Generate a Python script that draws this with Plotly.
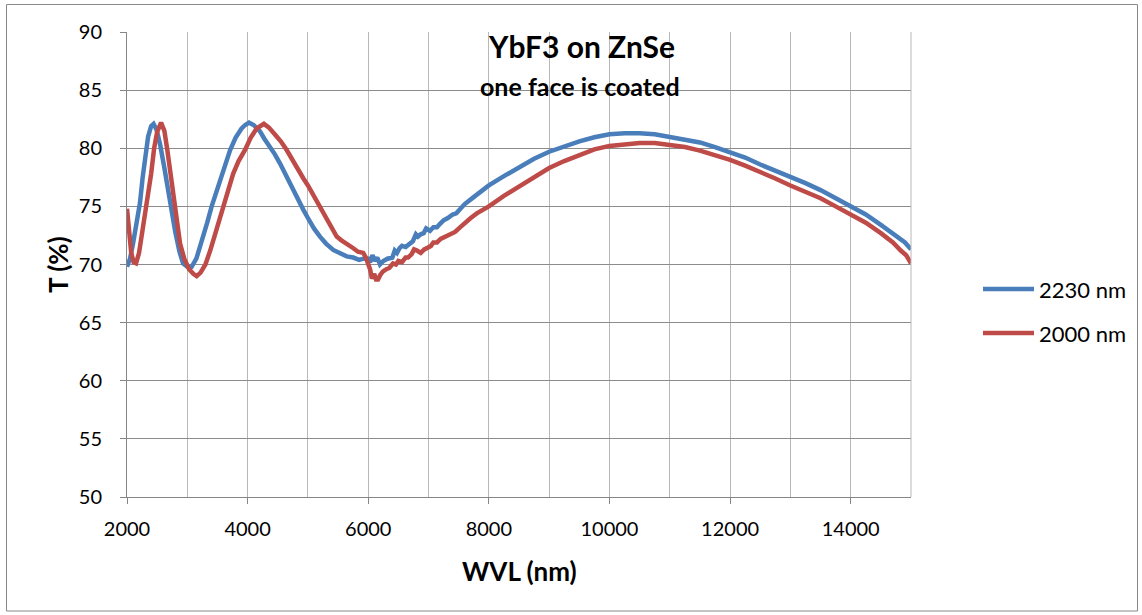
import plotly.graph_objects as go

# Series "2230 nm" (blue)
wl_2230 = [2000, 2050, 2100, 2160, 2215, 2260, 2300, 2350, 2400, 2440, 2490, 2550, 2620, 2713,
           2800, 2870, 2930, 3000, 3072, 3150, 3250, 3330, 3404, 3500, 3600, 3710, 3800, 3900,
           3960, 4023, 4100, 4200, 4280, 4350, 4450, 4536, 4650, 4750, 4850, 4925, 5000, 5100,
           5200, 5300, 5420, 5530, 5643, 5750, 5850, 5920, 5974, 6000, 6030, 6070, 6110, 6150,
           6195, 6250, 6320, 6400, 6440, 6477, 6520, 6560, 6620, 6692, 6740, 6790, 6825, 6870,
           6920, 6960, 7024, 7080, 7140, 7190, 7250, 7320, 7400, 7460, 7522, 7600, 7700, 7800,
           7900, 8000, 8250, 8500, 8750, 9000, 9250, 9500, 9750, 10000, 10250, 10500, 10750,
           11000, 11250, 11500, 11750, 12000, 12250, 12500, 12750, 13000, 13250, 13500, 13750,
           14000, 14250, 14500, 14750, 14900, 15000]
t_2230 = [69.8, 70.5, 71.8, 73.7, 75.3, 77.5, 79.3, 81.0, 81.9, 82.1, 81.6, 80.3, 78.3, 75.3,
          72.8, 71.1, 70.1, 69.8, 69.8, 70.5, 72.1, 73.6, 75.0, 76.6, 78.2, 79.85, 80.9, 81.7,
          82.0, 82.2, 82.0, 81.5, 80.8, 80.3, 79.5, 78.7, 77.5, 76.4, 75.4, 74.7, 74.0, 73.1,
          72.4, 71.8, 71.25, 70.95, 70.7, 70.6, 70.4, 70.5, 70.55, 70.5, 70.2, 70.8, 70.3, 70.6,
          70.0, 70.3, 70.5, 70.6, 71.2, 71.0, 71.4, 71.6, 71.5, 71.8, 72.0, 72.6, 72.4, 72.6,
          72.7, 73.1, 72.9, 73.2, 73.2, 73.5, 73.8, 74.0, 74.3, 74.4, 74.8, 75.2, 75.6, 76.0,
          76.4, 76.8, 77.6, 78.4, 79.1, 79.7, 80.2, 80.6, 80.95, 81.2, 81.3, 81.3, 81.2,
          80.95, 80.75, 80.5, 80.1, 79.7, 79.2, 78.6, 78.1, 77.5, 77.0, 76.4, 75.7,
          75.0, 74.3, 73.4, 72.5, 71.9, 71.3]

# Series "2000 nm" (red)
wl_2000 = [2000, 2030, 2070, 2110, 2150, 2200, 2250, 2300, 2350, 2400, 2450, 2500, 2565, 2620,
           2670, 2713, 2763, 2820, 2880, 2950, 3030, 3100, 3155, 3220, 3300, 3380, 3450, 3520,
           3597, 3680, 3760, 3850, 3957, 4050, 4150, 4270, 4350, 4450, 4550, 4648, 4750, 4850,
           4925, 5000, 5100, 5200, 5300, 5400, 5477, 5550, 5650, 5753, 5830, 5917, 5960, 6000,
           6030, 6062, 6100, 6130, 6162, 6200, 6245, 6300, 6350, 6411, 6460, 6500, 6560, 6620,
           6660, 6720, 6760, 6810, 6870, 6930, 6975, 7040, 7080, 7140, 7200, 7280, 7350, 7440,
           7522, 7600, 7700, 7800, 7900, 8000, 8250, 8500, 8750, 9000, 9250, 9500, 9750, 10000,
           10250, 10500, 10750, 11000, 11250, 11500, 11750, 12000, 12250, 12500, 12750, 13000,
           13250, 13500, 13750, 14000, 14250, 14500, 14700, 14830, 14920, 15000]
t_2000 = [74.8, 72.8, 71.0, 70.2, 70.1, 71.0, 72.6, 74.2, 75.8, 77.8, 80.0, 81.4, 82.2, 81.5,
          79.8, 78.1, 75.8, 73.5, 71.8, 70.5, 69.6, 69.2, 69.0, 69.3, 70.0, 71.2, 72.4, 73.7,
          75.0, 76.5, 77.8, 78.9, 79.85, 80.9, 81.7, 82.1, 81.8, 81.2, 80.6, 79.85, 78.9, 78.0,
          77.4, 76.8, 75.9, 75.0, 74.1, 73.1, 72.4, 72.1, 71.8, 71.4, 71.1, 71.0, 70.6, 70.0,
          69.6, 68.8, 69.2, 68.7, 68.7, 69.1, 69.4, 69.6, 69.7, 70.1, 70.0, 70.3, 70.2, 70.6,
          70.6, 70.9, 71.3, 71.2, 71.0, 71.3, 71.4, 71.6, 71.9, 71.9, 72.2, 72.4, 72.6, 72.8,
          73.2, 73.6, 74.0, 74.4, 74.7, 75.0, 75.9, 76.7, 77.5, 78.3, 78.9, 79.4, 79.9, 80.2,
          80.35, 80.45, 80.45, 80.3, 80.1, 79.8, 79.4, 79.0, 78.5, 78.0, 77.4, 76.8,
          76.3, 75.7, 75.0, 74.3, 73.6, 72.7, 71.9, 71.2, 70.8, 70.1]

series_names = ["2230 nm", "2000 nm"]
series_colors = ["#4a7ebb", "#be4b48"]

x_ticks = [2000, 4000, 6000, 8000, 10000, 12000, 14000]
y_ticks = [50, 55, 60, 65, 70, 75, 80, 85, 90]

FONT = "Lato"
W, H = 1142, 615
L, R, T, B = 127, 231, 32, 118
PW, PH = W - L - R, H - T - B

fig = go.Figure()
for xs, ys, nm, col in zip([wl_2230, wl_2000], [t_2230, t_2000], series_names, series_colors):
    fig.add_trace(go.Scatter(x=xs, y=ys, mode="lines", name=nm,
                             line=dict(color=col, width=4.5)))

def px(xp):
    return (xp - L) / PW

def py(yp):
    return (H - B - yp) / PH

fig.update_layout(
    width=W, height=H,
    margin=dict(l=L, r=R, t=T, b=B, autoexpand=False),
    paper_bgcolor="white", plot_bgcolor="white",
    font=dict(family=FONT, size=20, color="black"),
    showlegend=False,
    xaxis=dict(range=[2000, 15000], tickvals=x_ticks, ticktext=[str(v) for v in x_ticks],
               showgrid=True, gridcolor="#b8b8b8", gridwidth=1, automargin=False,
               showline=True, linecolor="#868686", linewidth=1,
               ticks="outside", ticklen=6, tickcolor="#868686",
               tickfont=dict(family=FONT, size=20), zeroline=False,
               ticklabelstandoff=8),
    yaxis=dict(range=[50, 90], tickvals=y_ticks, ticktext=[str(v) for v in y_ticks],
               showgrid=True, gridcolor="#8c8c8c", gridwidth=1, automargin=False,
               showline=True, linecolor="#868686", linewidth=1,
               ticks="outside", ticklen=6, tickcolor="#868686",
               tickfont=dict(family=FONT, size=20), zeroline=False,
               ticklabelstandoff=14),
)

# vertical grid lines at the odd thousands
fig.update_xaxes(minor=dict(tickvals=list(range(3000, 15001, 2000)), showgrid=True,
                            gridcolor="#b8b8b8", gridwidth=1, ticks=""))

# right edge line of plot area
fig.add_shape(type="line", xref="paper", yref="paper", x0=1, x1=1, y0=0, y1=1,
              line=dict(color="#b8b8b8", width=1))

# outer chart border
fig.add_shape(type="rect", xref="paper", yref="paper",
              x0=px(6.5), x1=px(1137.5), y0=py(611), y1=py(4.5),
              line=dict(color="#898989", width=1), fillcolor="rgba(0,0,0,0)")

# legend (drawn as line samples + labels)
legend_y = [289, 333]
for nm, col, ly in zip(series_names, series_colors, legend_y):
    fig.add_shape(type="line", xref="paper", yref="paper",
                  x0=px(983), x1=px(1034), y0=py(ly), y1=py(ly),
                  line=dict(color=col, width=4.5))
    fig.add_annotation(text=nm, xref="paper", yref="paper", x=px(1037), y=py(ly),
                       xanchor="left", yanchor="middle", showarrow=False,
                       font=dict(family=FONT, size=22, color="black"))

fig.add_annotation(text="<b>YbF3 on ZnSe</b>", xref="paper", yref="paper",
                   x=px(581), y=py(46), xanchor="center", yanchor="middle", showarrow=False,
                   font=dict(family=FONT, size=30, color="black"))
fig.add_annotation(text="<b>one face is coated</b>", xref="paper", yref="paper",
                   x=px(580), y=py(86), xanchor="center", yanchor="middle", showarrow=False,
                   font=dict(family=FONT, size=25, color="black"))
fig.add_annotation(text="<b>WVL (nm)</b>", xref="paper", yref="paper",
                   x=px(519), y=py(571), xanchor="center", yanchor="middle", showarrow=False,
                   font=dict(family=FONT, size=26, color="black"))
fig.add_annotation(text="<b>T (%)</b>", xref="paper", yref="paper",
                   x=px(58), y=py(265), xanchor="center", yanchor="middle", showarrow=False,
                   textangle=-90,
                   font=dict(family=FONT, size=26, color="black"))

fig.write_html("out.html", config={"displayModeBar": False},
               post_script="document.body.style.margin='0';")
